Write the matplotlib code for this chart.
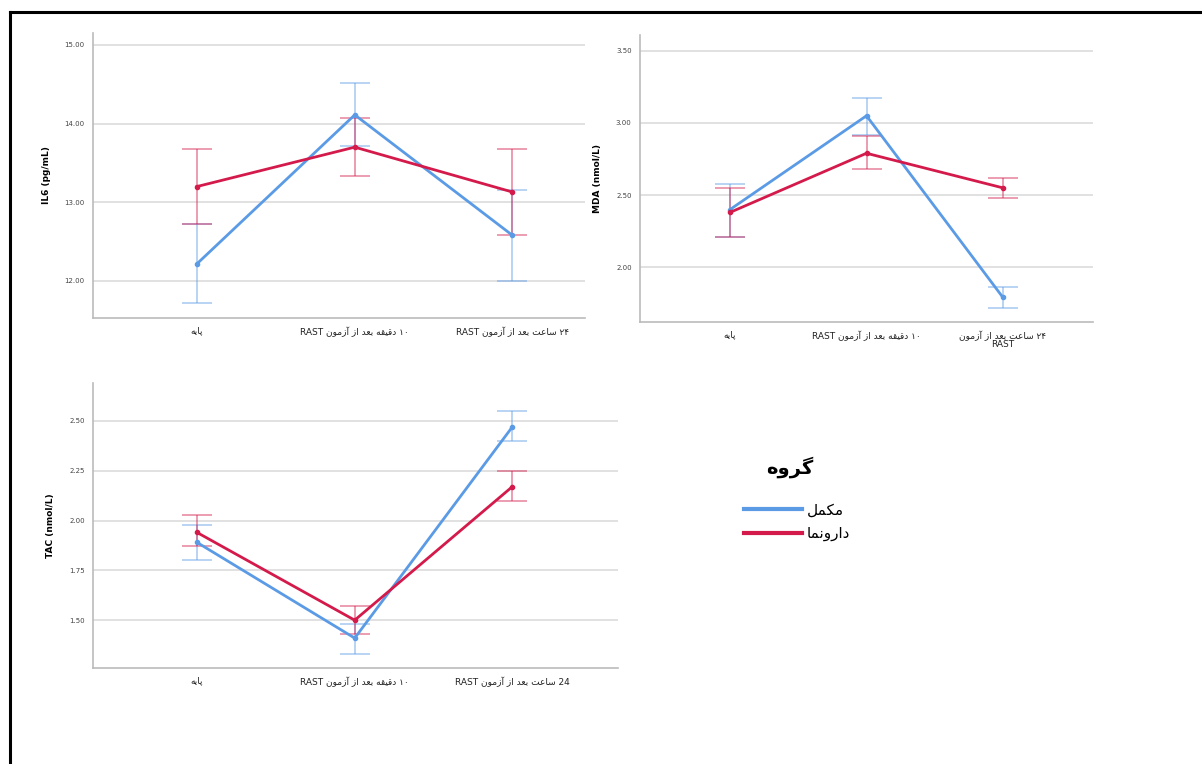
import matplotlib
matplotlib.use('Agg')
import matplotlib.pyplot as plt
from matplotlib.lines import Line2D

# time points (x axis) for each panel
labels_a = ['پایه', '۱۰ دقیقه بعد از آزمون RAST', '۲۴ ساعت بعد از آزمون RAST']
labels_mda = ['پایه', '۱۰ دقیقه بعد از آزمون RAST', '۲۴ ساعت بعد از آزمون\nRAST']
labels_tac = ['پایه', '۱۰ دقیقه بعد از آزمون RAST', '24 ساعت بعد از آزمون RAST']

groups = ['مکمل', 'دارونما']
legend_title = 'گروه'

# IL6 (pg/mL): means, lower, upper
il6_supp = [12.22, 14.11, 12.58]
il6_supp_lo = [11.72, 13.72, 12.00]
il6_supp_hi = [12.72, 14.51, 13.16]
il6_plac = [13.20, 13.70, 13.13]
il6_plac_lo = [12.72, 13.33, 12.58]
il6_plac_hi = [13.68, 14.07, 13.68]

# MDA (nmol/L)
mda_supp = [2.40, 3.05, 1.79]
mda_supp_lo = [2.21, 2.92, 1.72]
mda_supp_hi = [2.58, 3.17, 1.86]
mda_plac = [2.38, 2.79, 2.55]
mda_plac_lo = [2.21, 2.68, 2.48]
mda_plac_hi = [2.55, 2.91, 2.62]

# TAC (nmol/L)
tac_supp = [1.89, 1.41, 2.47]
tac_supp_lo = [1.80, 1.33, 2.40]
tac_supp_hi = [1.98, 1.48, 2.55]
tac_plac = [1.94, 1.50, 2.17]
tac_plac_lo = [1.87, 1.43, 2.10]
tac_plac_hi = [2.03, 1.57, 2.25]

BLUE = '#5b9be6'
RED = '#d41a4b'


# ---- tiny Persian shaper: matplotlib draws glyphs without joining/bidi ----
FORMS = {
    'ا': ('\uFE8D', '\uFE8E', None, None),
    'آ': ('\uFE81', '\uFE82', None, None),
    'د': ('\uFEA9', '\uFEAA', None, None),
    'ر': ('\uFEAD', '\uFEAE', None, None),
    'ز': ('\uFEAF', '\uFEB0', None, None),
    'و': ('\uFEED', '\uFEEE', None, None),
    'ب': ('\uFE8F', '\uFE90', '\uFE91', '\uFE92'),
    'پ': ('\uFB56', '\uFB57', '\uFB58', '\uFB59'),
    'ت': ('\uFE95', '\uFE96', '\uFE97', '\uFE98'),
    'س': ('\uFEB1', '\uFEB2', '\uFEB3', '\uFEB4'),
    'ع': ('\uFEC9', '\uFECA', '\uFECB', '\uFECC'),
    'ق': ('\uFED5', '\uFED6', '\uFED7', '\uFED8'),
    'ک': ('\uFB8E', '\uFB8F', '\uFB90', '\uFB91'),
    'گ': ('\uFB92', '\uFB93', '\uFB94', '\uFB95'),
    'ل': ('\uFEDD', '\uFEDE', '\uFEDF', '\uFEE0'),
    'م': ('\uFEE1', '\uFEE2', '\uFEE3', '\uFEE4'),
    'ن': ('\uFEE5', '\uFEE6', '\uFEE7', '\uFEE8'),
    'ه': ('\uFEE9', '\uFEEA', '\uFEEB', '\uFEEC'),
    'ی': ('\uFBFC', '\uFBFD', '\uFBFE', '\uFBFF'),
}


def shape_word(w):
    out = []
    for i, c in enumerate(w):
        if c not in FORMS:
            out.append(c)
            continue
        prev = w[i - 1] if i > 0 else None
        nxt = w[i + 1] if i + 1 < len(w) else None
        jp = prev in FORMS and FORMS[prev][2] is not None
        jn = nxt in FORMS and FORMS[c][2] is not None
        iso, fin, ini, med = FORMS[c]
        if jp and jn:
            out.append(med)
        elif jp:
            out.append(fin)
        elif jn:
            out.append(ini)
        else:
            out.append(iso)
    return ''.join(out)


def rtl(text):
    lines = []
    for line in text.split('\n'):
        toks = []
        for t in line.split(' ')[::-1]:
            if any(c in FORMS for c in t):
                toks.append(shape_word(t)[::-1])
            else:
                toks.append(t)
        lines.append(' '.join(toks))
    return '\n'.join(lines)


W, H = 1202, 764
fig = plt.figure(figsize=(W / 100, H / 100), dpi=100)

# frame round the picture (left and top edge only)
fig.add_artist(Line2D([10 / W, 10 / W], [0, 1 - 12 / H], color='black', lw=2.2))
fig.add_artist(Line2D([10 / W, 1], [1 - 12 / H, 1 - 12 / H], color='black', lw=2.2))


def panel(rect, xlabels, ylabel, yticks, ylim, xlim, series):
    ax = fig.add_axes(rect)
    x = list(range(len(xlabels)))
    for mean, lo, hi, col in series:
        err = [[m - l for m, l in zip(mean, lo)], [h - m for m, h in zip(mean, hi)]]
        ax.errorbar(x, mean, yerr=err, fmt='none', ecolor=col, alpha=0.5,
                    elinewidth=1.2, capsize=10.5, capthick=1.2, zorder=3)
        ax.plot(x, mean, color=col, lw=2.0, marker='o', ms=3, zorder=4)
    ax.set_xlim(*xlim)
    ax.set_ylim(*ylim)
    ax.set_yticks(yticks)
    ax.set_yticklabels(['%.2f' % v for v in yticks], fontsize=5, color='#444444')
    ax.set_xticks(x)
    ax.set_xticklabels([rtl(t) for t in xlabels], fontsize=6.5, color='#222222',
                       family=['DejaVu Sans'], linespacing=0.9)
    ax.tick_params(length=0, pad=6)
    ax.grid(axis='y', color='#dcdcdc', lw=1.2)
    ax.set_axisbelow(True)
    for s in ['top', 'right']:
        ax.spines[s].set_visible(False)
    for s in ['left', 'bottom']:
        ax.spines[s].set_color('#bbbbbb')
        ax.spines[s].set_linewidth(1.2)
    ax.set_ylabel(ylabel, fontsize=6.5, fontweight='bold', labelpad=10)
    return ax


panel([93 / W, 1 - 318 / H, 492 / W, 285 / H], labels_a, 'IL6 (pg/mL)',
      [12.0, 13.0, 14.0, 15.0], (11.53, 15.15), (-0.66, 2.46),
      [(il6_supp, il6_supp_lo, il6_supp_hi, BLUE),
       (il6_plac, il6_plac_lo, il6_plac_hi, RED)])

panel([640 / W, 1 - 322 / H, 453 / W, 287 / H], labels_mda, 'MDA (nmol/L)',
      [2.0, 2.5, 3.0, 3.5], (1.62, 3.61), (-0.66, 2.66),
      [(mda_supp, mda_supp_lo, mda_supp_hi, BLUE),
       (mda_plac, mda_plac_lo, mda_plac_hi, RED)])

panel([93 / W, 1 - 668 / H, 525 / W, 285 / H], labels_tac, 'TAC (nmol/L)',
      [1.5, 1.75, 2.0, 2.25, 2.5], (1.26, 2.69), (-0.66, 2.67),
      [(tac_supp, tac_supp_lo, tac_supp_hi, BLUE),
       (tac_plac, tac_plac_lo, tac_plac_hi, RED)])

# legend: title as its own text, entries below it
fig.text(790 / W, 1 - 467 / H, rtl(legend_title), ha='center', va='center',
         fontsize=14, fontweight='bold')
handles = [Line2D([], [], color=BLUE, lw=3), Line2D([], [], color=RED, lw=3)]
fig.legend(handles, [rtl(g) for g in groups],
           loc='upper left', bbox_to_anchor=(730 / W, 1 - 489 / H),
           frameon=False, fontsize=11, handlelength=3.8, handletextpad=0.3,
           labelspacing=0.55)

fig.savefig('out.png', dpi=100, facecolor='white')
